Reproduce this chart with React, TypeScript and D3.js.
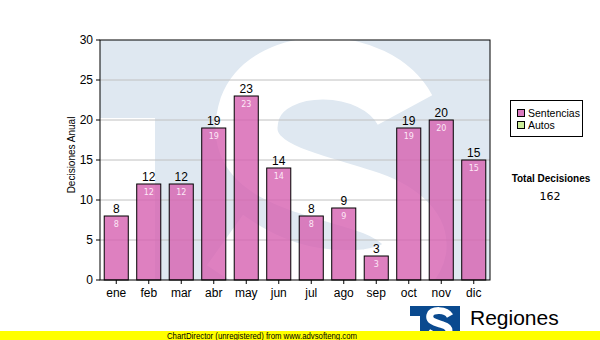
import React from "react";
import * as d3 from "d3";

const months = ["ene", "feb", "mar", "abr", "may", "jun", "jul", "ago", "sep", "oct", "nov", "dic"];
const sentencias = [8, 12, 12, 19, 23, 14, 8, 9, 3, 19, 20, 15];
const yTicks = [0, 5, 10, 15, 20, 25, 30];
const legendItems = [
  { name: "Sentencias", color: "#d979bf" },
  { name: "Autos", color: "#ccee99" },
];
const total = 162;

const width = 600;
const height = 340;
const margin = { top: 40, left: 100, bottom: 60, right: 110 };
const iwidth = width - margin.left - margin.right;
const iheight = height - margin.top - margin.bottom;

const App = () => {
  const x = d3.scaleBand().domain(months).range([0, iwidth]).paddingInner(0.26).paddingOuter(0.13);
  const y = d3.scaleLinear().domain([0, 30]).range([iheight, 0]);

  // big "S" watermark behind the plot
  const sPath = d3.path();
  sPath.moveTo(305, 70);
  sPath.bezierCurveTo(275, 15, 170, 15, 150, 68);
  sPath.bezierCurveTo(130, 130, 200, 140, 262, 160);
  sPath.bezierCurveTo(335, 182, 330, 232, 268, 240);
  sPath.bezierCurveTo(205, 246, 160, 225, 125, 200);

  const logo = d3.path();
  logo.moveTo(40, 10);
  logo.bezierCurveTo(36, 3, 22, 3, 20, 9);
  logo.bezierCurveTo(18, 16, 28, 17, 33, 19);
  logo.bezierCurveTo(42, 22, 40, 29, 32, 30);
  logo.bezierCurveTo(26, 31, 22, 29, 18, 26);

  return (
    <svg width={width} height={height} style={{ position: "absolute", left: 0, top: 0, background: "#fff" }}>
      <g transform={`translate(${margin.left},${margin.top})`}>
        <rect x={0} y={0} width={iwidth} height={iheight} fill="#dfe8f1" />
        <rect x={0} y={78} width={55} height={iheight - 78} fill="#fff" />
        <path d={sPath.toString()} fill="none" stroke="#fff" strokeWidth={62} />
        {yTicks.map((t) => (
          <g key={t} transform={`translate(0,${y(t)})`}>
            {t > 0 && t < 30 && <line x1={0} x2={iwidth} stroke="#c0c0c0" />}
            <line x1={-4} x2={0} stroke="#000" />
            <text x={-7} dy="0.35em" textAnchor="end" fontFamily="Liberation Sans" fontSize={12} fill="#000">
              {t}
            </text>
          </g>
        ))}
        {sentencias.map((v, i) => {
          const bx = x(months[i]) as number;
          return (
            <g key={months[i]}>
              <rect
                x={bx}
                y={y(v)}
                width={x.bandwidth()}
                height={iheight - y(v)}
                fill="#d660b0"
                fillOpacity={0.8}
                stroke="#000"
                strokeWidth={1}
              />
              <text x={bx + x.bandwidth() / 2} y={y(v) - 3} textAnchor="middle" fontFamily="Liberation Sans" fontSize={12} fill="#000">
                {v}
              </text>
              <text x={bx + x.bandwidth() / 2} y={y(v) + 11} textAnchor="middle" fontFamily="DejaVu Sans" fontSize={8} fill="#fde8f6">
                {v}
              </text>
            </g>
          );
        })}
        <rect x={0} y={0} width={iwidth} height={iheight} fill="none" stroke="#000" strokeWidth={1} />
        {months.map((m) => {
          const cx = (x(m) as number) + x.bandwidth() / 2;
          return (
            <g key={m} transform={`translate(${cx},${iheight})`}>
              <line y1={0} y2={4} stroke="#000" />
              <text y={17} textAnchor="middle" fontFamily="Liberation Sans" fontSize={12} fill="#000">
                {m}
              </text>
            </g>
          );
        })}
      </g>
      <text
        transform={`translate(75,155) rotate(-90)`}
        textAnchor="middle"
        fontFamily="Liberation Sans"
        fontSize={10}
        fill="#000"
      >
        Decisiones Anual
      </text>
      <g transform="translate(510,100)">
        <rect x={0.5} y={0.5} width={72} height={36} fill="#fff" stroke="#000" />
        {legendItems.map((d, i) => (
          <g key={d.name} transform={`translate(7,${9 + i * 12})`}>
            <rect x={0.5} y={0.5} width={7} height={7} fill={d.color} stroke="#000" />
            <text x={11} y={7.5} fontFamily="Liberation Sans" fontSize={10.5} fill="#000">
              {d.name}
            </text>
          </g>
        ))}
      </g>
      <text x={551} y={182} textAnchor="middle" fontFamily="Liberation Sans" fontWeight="bold" fontSize={10} fill="#000">
        Total Decisiones
      </text>
      <text x={550} y={200} textAnchor="middle" fontFamily="DejaVu Sans" fontSize={11} fill="#000">
        {total}
      </text>
      <g transform="translate(410,306)">
        <rect x={0} y={0} width={50} height={34} fill="#0a4a8f" />
        <rect x={0} y={10} width={10} height={24} fill="#fff" />
        <path d={logo.toString()} fill="none" stroke="#fff" strokeWidth={7} />
      </g>
      <text x={470} y={325} fontFamily="Liberation Sans" fontSize={21} fill="#000">
        Regiones
      </text>
      <rect x={0} y={331} width={width} height={9} fill="#ffff00" />
      <text x={262} y={339} textAnchor="middle" fontFamily="Liberation Sans" fontSize={9} textLength={190} lengthAdjust="spacingAndGlyphs" fill="#000">
        ChartDirector (unregistered) from www.advsofteng.com
      </text>
    </svg>
  );
};

export default App;
